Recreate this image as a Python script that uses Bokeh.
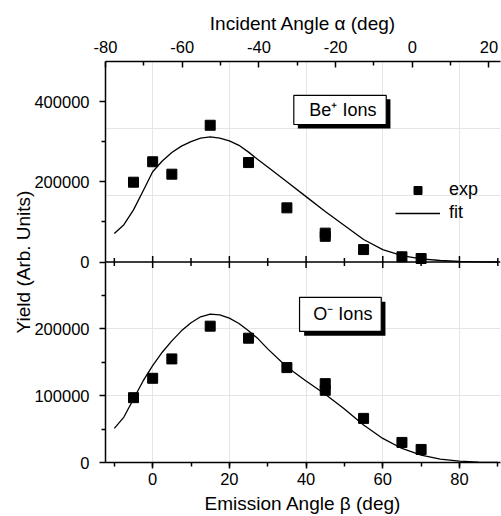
import math
from bokeh.plotting import figure
from bokeh.models import (Range1d, LinearAxis, FixedTicker, SingleIntervalTicker, Span,
                          BoxAnnotation, Label, Legend, LegendItem)
from bokeh.embed import file_html
from bokeh.resources import INLINE

FONT = "Liberation Sans"

# ---------------- data ----------------
beta_exp_be = [-5, 0, 5, 15, 25, 35, 45, 45, 55, 65, 70]
yield_exp_be = [199000, 250000, 219000, 341000, 248000, 135000, 72000, 64000, 31000, 13000, 8700]

beta_fit = [-10, -7.5, -5, -2.5, 0, 2.5, 5, 7.5, 10, 12.5, 15, 17.5, 20, 22.5, 25, 27.5,
            30, 35, 40, 45, 50, 55, 60, 65, 70, 75, 80, 85, 90]
yield_fit_be = [71000, 93000, 130000, 177000, 225000, 252000, 273000, 289000, 300000, 309000,
                312000, 309000, 302000, 291000, 274000, 255000,
                237000, 200000, 163000, 126000, 91000, 56000, 31000, 16000, 8000, 3700, 1200, 300, 0]

beta_exp_o = [-5, 0, 5, 15, 25, 35, 45, 45, 55, 65, 70]
yield_exp_o = [97000, 126000, 155000, 204000, 186000, 142000, 118000, 108000, 66000, 30000, 19500]
yield_fit_o = [51000, 68000, 95000, 122000, 145000, 165000, 182000, 197000, 209000, 218000,
               222000, 221000, 216000, 208000, 197000, 185000,
               170000, 143000, 122000, 102000, 80000, 56000, 36000, 21000, 11000, 4900, 2000, 500, 0]

# axis ticks / labels
alpha_range = (-80, 23)
beta_range = (-12.3, 90.7)
alpha_ticks = [-80, -60, -40, -20, 0, 20]
alpha_labels = ["-80", "-60", "-40", "-20", "0", "20"]
alpha_minor = [-70, -50, -30, -10, 10]
top_yrange = (-500000, 500000)    # top panel: 0..500000 occupies upper half
bot_yrange = (0, 600000)          # bottom panel: 0..300000 occupies lower half
top_major = [0, 200000, 400000]
top_major_labels = ["0", "200000", "400000"]
top_minor = [100000, 300000]
bot_major = [0, 100000, 200000]
bot_major_labels = ["0", "100000", "200000"]
bot_minor = [50000, 150000, 250000]
mid_major = [0, 20, 40, 60, 80]
mid_minor = [-10, 10, 30, 50, 70, 90]

p = figure(width=501, height=516, output_backend="svg", toolbar_location=None,
           x_range=Range1d(*beta_range), y_range=Range1d(*bot_yrange),
           x_axis_location=None, y_axis_location=None,
           min_border_left=105, min_border_right=1, min_border_top=61, min_border_bottom=52)
p.extra_y_ranges = {"top": Range1d(*top_yrange)}
p.extra_x_ranges = {"alpha": Range1d(*alpha_range)}
p.outline_line_color = None
p.background_fill_color = "white"
p.border_fill_color = "white"


def to_main(v):
    t0, t1 = top_yrange
    m0, m1 = bot_yrange
    return int(round((v - t0) / (t1 - t0) * (m1 - m0) + m0))


def style_axis(ax):
    ax.axis_line_width = 1.5
    ax.major_tick_line_width = 1.5
    ax.minor_tick_line_width = 1.5
    ax.axis_line_color = "black"
    ax.major_tick_line_color = "black"
    ax.minor_tick_line_color = "black"
    ax.major_label_text_font = FONT
    ax.major_label_text_font_size = "16.5px"
    ax.major_label_text_color = "black"
    ax.axis_label_text_font = FONT
    ax.axis_label_text_font_size = "19px"
    ax.axis_label_text_font_style = "normal"
    ax.axis_label_text_color = "black"


# bottom axis (emission angle)
xb = LinearAxis(axis_label="Emission Angle β (deg)",
                ticker=SingleIntervalTicker(interval=20, num_minor_ticks=2))
style_axis(xb)
xb.major_tick_in = 0
xb.major_tick_out = 6
xb.minor_tick_in = 0
xb.minor_tick_out = 4
xb.major_label_standoff = 4
xb.axis_label_standoff = 5
p.add_layout(xb, "below")

# top axis (incident angle)
xa = LinearAxis(x_range_name="alpha", axis_label="Incident Angle α (deg)",
                ticker=FixedTicker(ticks=alpha_ticks, minor_ticks=alpha_minor),
                major_label_overrides=dict(zip(alpha_ticks, alpha_labels)))
style_axis(xa)
xa.major_tick_in = 6
xa.major_tick_out = 0
xa.minor_tick_in = 4
xa.minor_tick_out = 0
xa.major_label_standoff = 9
xa.axis_label_standoff = 4
p.add_layout(xa, "above")

# left axis shared by both panels
ticks = list(bot_major) + [to_main(v) for v in top_major]
minor = list(bot_minor) + [to_main(v) for v in top_minor]
overrides = {}
for v, s in zip(bot_major, bot_major_labels):
    overrides[v] = s
for v, s in zip(top_major, top_major_labels):
    overrides[to_main(v)] = s
yl = LinearAxis(axis_label="Yield (Arb. Units)",
                ticker=FixedTicker(ticks=ticks, minor_ticks=minor),
                major_label_overrides=overrides)
style_axis(yl)
yl.major_tick_in = 0
yl.major_tick_out = 6
yl.minor_tick_in = 0
yl.minor_tick_out = 4
yl.major_label_standoff = 10
yl.axis_label_standoff = -3
p.add_layout(yl, "left")

# middle axis separating the panels
mid_y = to_main(0)
p.add_layout(Span(location=mid_y, dimension="width", line_color="black", line_width=1.5))
p.scatter(mid_major, [mid_y] * len(mid_major), marker="dash", angle=math.pi / 2, size=12,
          line_color="black", line_width=1.5)
p.scatter(mid_minor, [mid_y] * len(mid_minor), marker="dash", angle=math.pi / 2, size=8,
          line_color="black", line_width=1.5)

# ---------------- top panel: Be+ ----------------
r_fit_be = p.line(beta_fit, yield_fit_be, line_color="black", line_width=1.3, y_range_name="top")
r_exp_be = p.scatter(beta_exp_be, yield_exp_be, marker="square", size=10, fill_color="black",
                     line_color="black", y_range_name="top")

# ---------------- bottom panel: O- ----------------
p.line(beta_fit, yield_fit_o, line_color="black", line_width=1.3)
p.scatter(beta_exp_o, yield_exp_o, marker="square", size=10, fill_color="black", line_color="black")

# text boxes with shadow
p.add_layout(BoxAnnotation(left=37.85, right=62.0, top=405700, bottom=333000, y_range_name="top",
                           fill_color="black", fill_alpha=1, line_color=None))
p.add_layout(BoxAnnotation(left=36.8, right=60.9, top=415600, bottom=342900, y_range_name="top",
                           fill_color="white", fill_alpha=1, line_color="black", line_alpha=1,
                           line_width=1.2))
p.add_layout(Label(x=49.6, y=378400, y_range_name="top", text="Be⁺ Ions", text_font=FONT,
                   text_font_size="18px", text_align="center", text_baseline="middle",
                   text_color="black"))

p.add_layout(BoxAnnotation(left=39.5, right=60.7, top=240400, bottom=189500,
                           fill_color="black", fill_alpha=1, line_color=None))
p.add_layout(BoxAnnotation(left=38.3, right=59.6, top=247100, bottom=196100,
                           fill_color="white", fill_alpha=1, line_color="black", line_alpha=1,
                           line_width=1.2))
p.add_layout(Label(x=49.6, y=221800, text="O⁻ Ions", text_font=FONT,
                   text_font_size="18px", text_align="center", text_baseline="middle",
                   text_color="black"))

# legend
legend = Legend(items=[LegendItem(label="exp", renderers=[r_exp_be]),
                       LegendItem(label="fit", renderers=[r_fit_be])],
                location=(290, 239), glyph_width=45, glyph_height=20, label_height=20,
                spacing=2, label_standoff=9, padding=0, margin=0,
                background_fill_alpha=0, border_line_color=None,
                label_text_font=FONT, label_text_font_size="18px", label_text_color="black")
p.add_layout(legend)

open("out.html", "w").write(file_html(p, INLINE))
